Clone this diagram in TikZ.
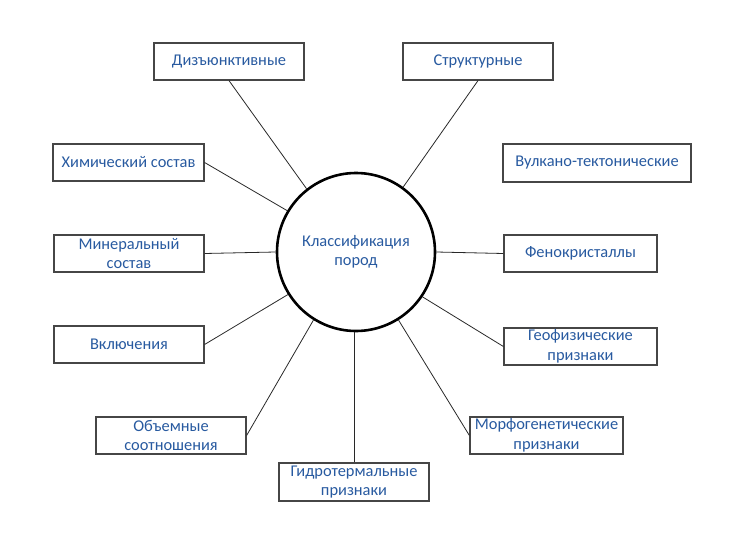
\documentclass[tikz,border=0pt]{standalone}
\usepackage{fontspec}
\setmainfont{Carlito}
\definecolor{txtblue}{RGB}{40,90,160}
\definecolor{boxgray}{RGB}{70,70,70}
\definecolor{linegray}{RGB}{40,40,40}
\begin{document}
\begin{tikzpicture}[x=1pt,y=-1pt,
  box/.style={draw=boxgray,line width=1.2pt,fill=white,inner sep=0pt,
    text=txtblue,align=center,font=\fontsize{16.4}{19.5}\selectfont},
  hub/.style={draw=black,line width=2.6pt,circle,minimum size=158pt,inner sep=0pt,
    text=txtblue,align=center,font=\fontsize{16.4}{19.5}\selectfont},
  conn/.style={draw=linegray,line width=0.8pt}]
\useasboundingbox (0,0) rectangle (732,535);
\node[hub] (c) at (356,252) {Классификация\\пород};
\node[box,minimum width=150pt,minimum height=37pt] (dis) at (229,61.5) {Дизъюнктивные};
\node[box,minimum width=150pt,minimum height=37pt] (str) at (478,61.5) {Структурные};
\node[box,minimum width=188pt,minimum height=38pt] (vul) at (597,163) {Вулкано-тектонические};
\node[box,minimum width=151pt,minimum height=37pt] (him) at (128.5,162.5) {Химический состав};
\node[box,minimum width=150pt,minimum height=37pt] (min) at (129,253.5) {Минеральный\\состав};
\node[box,minimum width=150pt,minimum height=37pt] (vkl) at (129,344.5) {Включения};
\node[box,minimum width=150pt,minimum height=37pt] (obj) at (171,435.5) {Объемные\\соотношения};
\node[box,minimum width=150pt,minimum height=38pt] (gid) at (354,482) {Гидротермальные\\признаки};
\node[box,minimum width=153pt,minimum height=37pt] (fen) at (580.5,253.5) {Фенокристаллы};
\node[box,minimum width=153pt,minimum height=37pt] (geo) at (580.5,346.5) {Геофизические\\признаки};
\node[box,minimum width=153pt,minimum height=37pt] (mor) at (546.5,435.5) {Морфогенетические\\признаки};
\draw[conn] (c.128) -- (dis.south);
\draw[conn] (c.54) -- (str.south);
\draw[conn] (c.149) -- (him.east);
\draw[conn] (c.west) -- (min.east);
\draw[conn] (c.212) -- (vkl.east);
\draw[conn] (c.238) -- (obj.east);
\draw[conn] (gid.north |- c.south) -- (gid.north);
\draw[conn] (c.302) -- (mor.west);
\draw[conn] (c.326) -- (geo.west);
\draw[conn] (c.east) -- (fen.west);
\end{tikzpicture}
\end{document}
